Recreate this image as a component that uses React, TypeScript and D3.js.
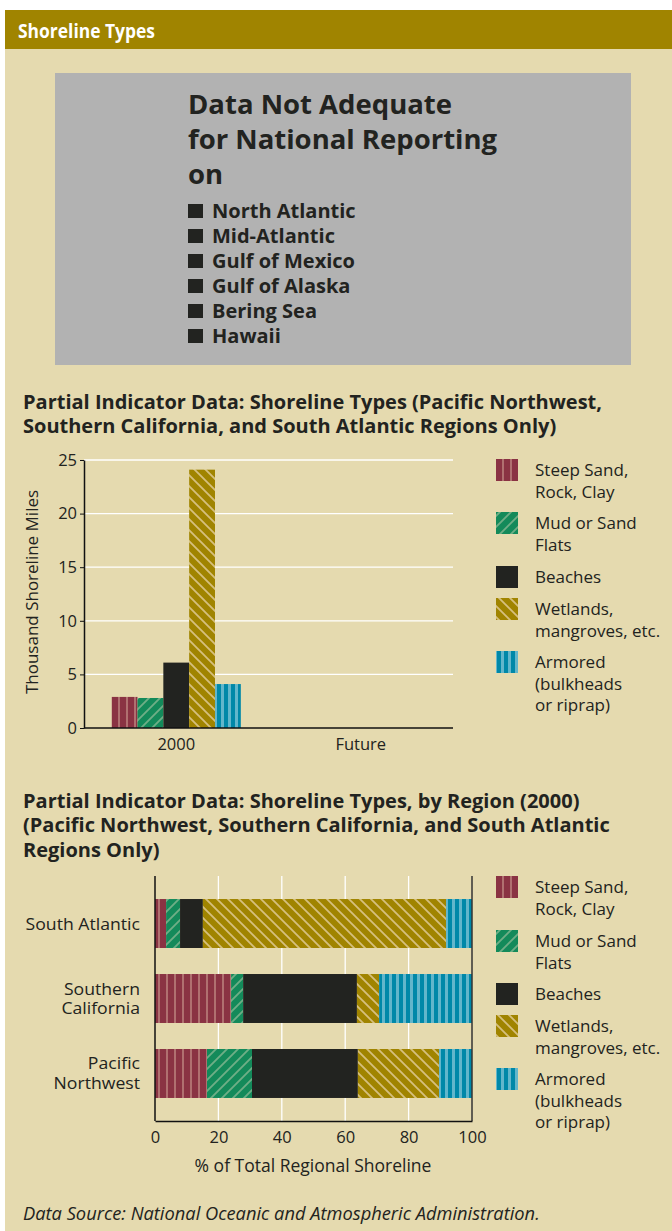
import React, { useEffect, useRef } from "react";
import * as d3 from "d3";

// shoreline type series (legend order)
const types = ["steep", "mud", "beach", "wet", "armored"];
const typeLabels = [
  ["Steep Sand,", "Rock, Clay"],
  ["Mud or Sand", "Flats"],
  ["Beaches"],
  ["Wetlands,", "mangroves, etc."],
  ["Armored", "(bulkheads", "or riprap)"],
];

// chart 1: thousand shoreline miles, 2000
const periods = ["2000", "Future"];
const miles2000 = [2.9, 2.8, 6.1, 24.1, 4.1];
const yTicks = [0, 5, 10, 15, 20, 25];

// chart 2: % of regional shoreline (2000)
const regions = ["South Atlantic", "Southern California", "Pacific Northwest"];
const regionLabels = [["South Atlantic"], ["Southern", "California"], ["Pacific", "Northwest"]];
const steepPct = [3.5, 24.0, 16.4];
const mudPct = [4.4, 3.8, 14.2];
const beachPct = [7.2, 35.9, 33.4];
const wetPct = [76.7, 7.0, 25.6];
const armoredPct = [8.2, 29.3, 10.4];
const xTicks = [0, 20, 40, 60, 80, 100];

const notAdequate = ["North Atlantic", "Mid-Atlantic", "Gulf of Mexico", "Gulf of Alaska", "Bering Sea", "Hawaii"];

const BG = "#e5daaf";
const GOLD = "#a08400";
const INK = "#222320";
const FONT = "'Open Sans', 'Noto Sans', sans-serif";

export default function App() {
  const ref = useRef<SVGSVGElement>(null);

  useEffect(() => {
    const svg = d3.select(ref.current);
    svg.selectAll("*").remove();

    // patterns
    const defs = svg.append("defs");
    const stripes = (id: string, base: string, light: string, w: number, sw: number) => {
      const p = defs.append("pattern").attr("id", id).attr("patternUnits", "userSpaceOnUse")
        .attr("width", w).attr("height", 10);
      p.append("rect").attr("width", w).attr("height", 10).attr("fill", base);
      p.append("rect").attr("x", w - sw).attr("width", sw).attr("height", 10).attr("fill", light);
    };
    stripes("p-steep", "#8a3343", "#b07070", 8, 2);
    stripes("p-armored", "#0088a8", "#62b6cb", 7, 3);
    const diag = (id: string, base: string, light: string, size: number, dir: number) => {
      const p = defs.append("pattern").attr("id", id).attr("patternUnits", "userSpaceOnUse")
        .attr("width", size).attr("height", size);
      p.append("rect").attr("width", size).attr("height", size).attr("fill", base);
      const d = dir > 0
        ? `M0,${size} L${size},0 M${-size / 2},${size / 2} L${size / 2},${-size / 2} M${size / 2},${size * 1.5} L${size * 1.5},${size / 2}`
        : `M0,0 L${size},${size} M${-size / 2},${size / 2} L${size / 2},${size * 1.5} M${size / 2},${-size / 2} L${size * 1.5},${size / 2}`;
      p.append("path").attr("d", d).attr("stroke", light).attr("stroke-width", 1.8);
    };
    diag("p-mud", "#138a5a", "#6fae86", 11, 1);
    diag("p-wet", "#a08400", "#d6c07e", 11, -1);
    const fills: Record<string, string> = {
      steep: "url(#p-steep)",
      mud: "url(#p-mud)",
      beach: INK,
      wet: "url(#p-wet)",
      armored: "url(#p-armored)",
    };

    // multi-line text as one element
    const multi = (parent: any, x: number, y: number, lines: string[], lh: number, size: number, anchor = "start") => {
      const t = parent.append("text").attr("x", x).attr("y", y).attr("fill", INK).attr("font-size", size)
        .attr("font-family", FONT).attr("text-anchor", anchor);
      lines.forEach((s, j) => {
        t.append("tspan").attr("x", x).attr("dy", j === 0 ? 0 : lh).text(s);
      });
      return t;
    };

    // page background + header
    svg.append("rect").attr("x", 5).attr("y", 49).attr("width", 667).attr("height", 1182).attr("fill", BG);
    svg.append("rect").attr("x", 5).attr("y", 10).attr("width", 667).attr("height", 39).attr("fill", GOLD);
    svg.append("text").attr("x", 18).attr("y", 38).attr("fill", "#fff").attr("font-size", 20)
      .attr("font-weight", 700).attr("font-family", FONT)
      .attr("textLength", 137).attr("lengthAdjust", "spacingAndGlyphs").text("Shoreline Types");

    // gray box
    svg.append("rect").attr("x", 55).attr("y", 73).attr("width", 576).attr("height", 292).attr("fill", "#b2b2b2");
    multi(svg, 188, 114, ["Data Not Adequate", "for National Reporting", "on"], 35, 27.5).attr("font-weight", 700);
    notAdequate.forEach((t, i) => {
      const cy = 211 + i * 25;
      svg.append("rect").attr("x", 188).attr("y", cy - 7).attr("width", 15).attr("height", 14).attr("fill", INK);
    });
    multi(svg, 212, 218, notAdequate, 25, 20).attr("font-weight", 700);

    const titleLines = (lines: string[], y0: number) => {
      multi(svg, 23, y0, lines, 24.7, 20).attr("font-weight", 700);
    };

    const legend = (y0s: number[]) => {
      types.forEach((k, i) => {
        const y = y0s[i];
        svg.append("rect").attr("x", 496).attr("y", y).attr("width", 22).attr("height", 22).attr("fill", fills[k]);
        multi(svg, 535, y + 17, typeLabels[i], 21.5, 17);
      });
    };

    // ---------- chart 1 ----------
    titleLines(["Partial Indicator Data: Shoreline Types (Pacific Northwest,",
      "Southern California, and South Atlantic Regions Only)"], 408.5);

    const x0 = d3.scaleBand().domain(periods).range([84, 453]).paddingInner(0.3).paddingOuter(0.15);
    const x1 = d3.scaleBand().domain(types).range([0, x0.bandwidth()]);
    const y = d3.scaleLinear().domain([0, 25]).range([728, 460]);

    const g1 = svg.append("g");
    g1.selectAll("line.grid").data(yTicks.filter((d) => d > 0)).join("line")
      .attr("x1", 84).attr("x2", 453).attr("y1", (d) => y(d)).attr("y2", (d) => y(d))
      .attr("stroke", "#fff").attr("stroke-width", 1.3);
    g1.selectAll("rect.bar").data(miles2000).join("rect")
      .attr("x", (_, i) => (x0("2000") as number) + (x1(types[i]) as number))
      .attr("y", (d) => y(d)).attr("width", x1.bandwidth()).attr("height", (d) => y(0) - y(d))
      .attr("fill", (_, i) => fills[types[i]]);

    const yAxis = g1.append("g").attr("transform", "translate(84,0)")
      .call(d3.axisLeft(y).tickValues(yTicks).tickSize(4).tickSizeOuter(0));
    const xAxis = g1.append("g").attr("transform", `translate(0,${y(0)})`)
      .call(d3.axisBottom(x0).tickSize(0).tickPadding(10));
    [yAxis, xAxis].forEach((a) => {
      a.select(".domain").attr("stroke", "#111").attr("stroke-width", 1.5);
      a.selectAll(".tick line").attr("stroke", "#111");
      a.selectAll("text").attr("font-size", 16.5).attr("font-family", FONT).attr("fill", INK);
    });
    xAxis.select(".domain").attr("d", "M84,0H453");
    g1.append("text").attr("transform", "translate(38,592) rotate(-90)").attr("text-anchor", "middle")
      .attr("font-size", 17).attr("font-family", FONT).attr("fill", INK).text("Thousand Shoreline Miles");

    legend([459, 512, 566, 598, 651]);

    // ---------- chart 2 ----------
    titleLines(["Partial Indicator Data: Shoreline Types, by Region (2000)",
      "(Pacific Northwest, Southern California, and South Atlantic",
      "Regions Only)"], 807.5);

    const xp = d3.scaleLinear().domain([0, 100]).range([155, 472]);
    const yr = d3.scaleBand().domain(regions).range([876, 1121]).paddingInner(0.347).paddingOuter(0.307);
    const table = regions.map((r, i) => ({
      region: r, steep: steepPct[i], mud: mudPct[i], beach: beachPct[i], wet: wetPct[i], armored: armoredPct[i],
    }));
    const series = d3.stack<any>().keys(types)(table);

    const g2 = svg.append("g");
    g2.selectAll("line.grid").data(xTicks.filter((d) => d > 0 && d < 100)).join("line")
      .attr("x1", (d) => xp(d)).attr("x2", (d) => xp(d)).attr("y1", 876).attr("y2", 1121)
      .attr("stroke", "#fff").attr("stroke-width", 1.3);
    series.forEach((s) => {
      g2.append("g").selectAll("rect").data(s).join("rect")
        .attr("x", (d) => xp(d[0])).attr("width", (d) => xp(d[1]) - xp(d[0]))
        .attr("y", (d) => yr(d.data.region) as number).attr("height", yr.bandwidth())
        .attr("fill", fills[s.key]);
    });
    g2.append("line").attr("x1", xp(100)).attr("x2", xp(100)).attr("y1", 876).attr("y2", 1121)
      .attr("stroke", "#333").attr("stroke-width", 1.5);
    const xAxis2 = g2.append("g").attr("transform", "translate(0,1121)")
      .call(d3.axisBottom(xp).tickValues(xTicks).tickSize(0).tickPadding(10).tickFormat(d3.format("d")));
    xAxis2.select(".domain").attr("stroke", "#111").attr("stroke-width", 1.5);
    xAxis2.selectAll("text").attr("font-size", 16.5).attr("font-family", FONT).attr("fill", INK);
    g2.append("line").attr("x1", 155).attr("x2", 155).attr("y1", 876).attr("y2", 1121)
      .attr("stroke", "#111").attr("stroke-width", 1.5);
    regions.forEach((r, i) => {
      const lines = regionLabels[i];
      const cy = (yr(r) as number) + yr.bandwidth() / 2;
      const lh = 20;
      const lab = g2.append("g")
        .attr("transform", `translate(140,${cy + 6 - ((lines.length - 1) / 2) * lh}) scale(1.11,1)`);
      multi(lab, 0, 0, lines, lh, 15.9, "end");
    });
    g2.append("text").attr("x", 313).attr("y", 1172).attr("text-anchor", "middle").attr("font-size", 17.5)
      .attr("font-family", FONT).attr("fill", INK).text("% of Total Regional Shoreline");

    legend([876, 930, 983, 1015, 1068]);

    svg.append("text").attr("x", 23).attr("y", 1220).attr("font-size", 18.3).attr("font-style", "italic")
      .attr("font-family", FONT).attr("fill", INK).text("Data Source: National Oceanic and Atmospheric Administration.");
  }, []);

  return (
    <svg ref={ref} width={672} height={1231}
      style={{ position: "absolute", left: 0, top: 0, background: "#fff" }} />
  );
}
